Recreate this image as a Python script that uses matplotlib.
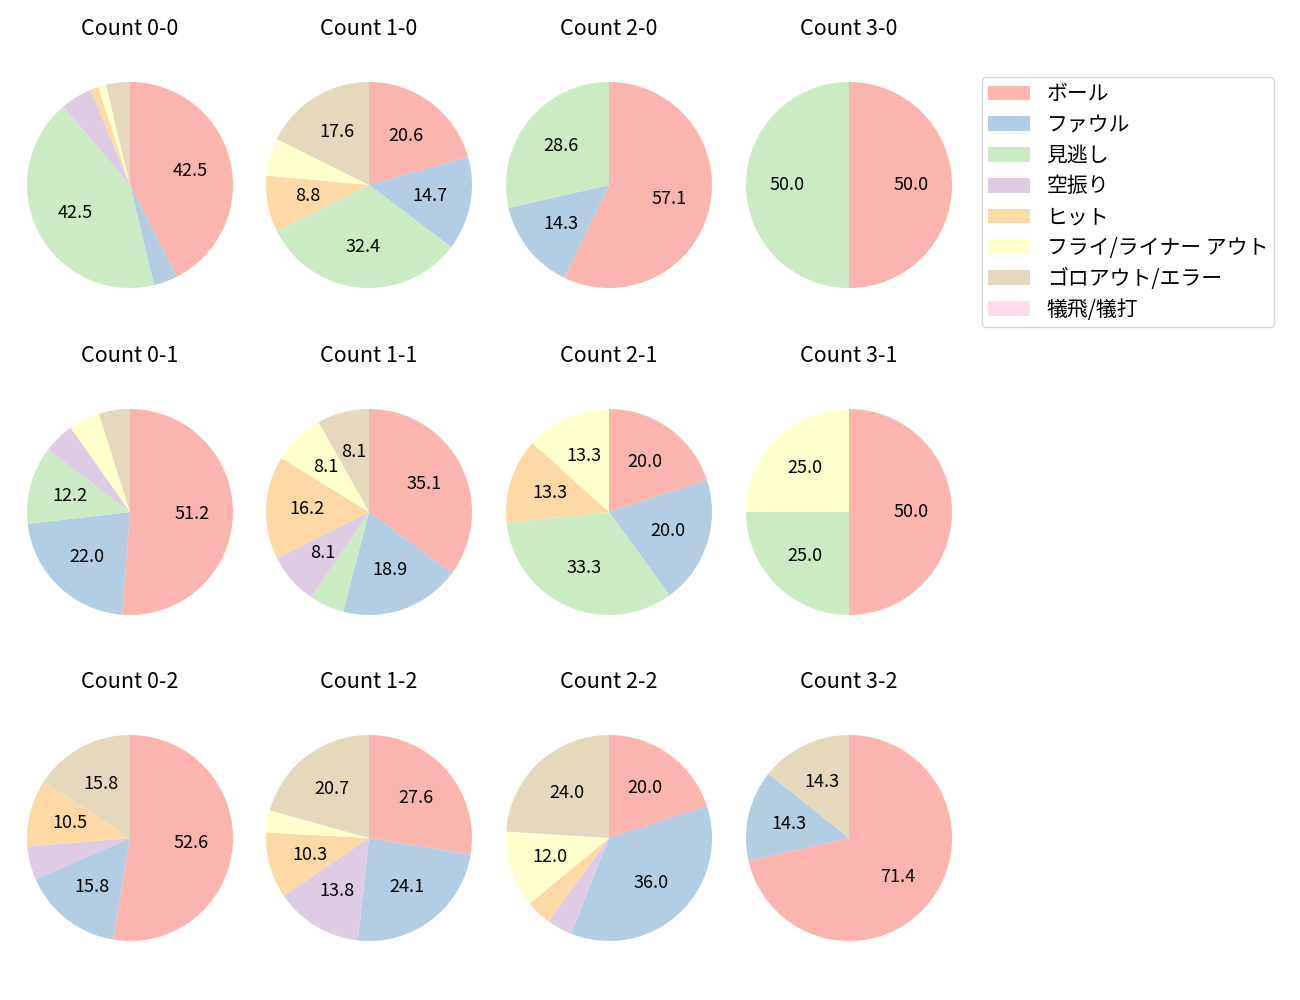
import matplotlib
matplotlib.use("Agg")
import matplotlib.pyplot as plt
from matplotlib.patches import Patch

plt.rcParams['font.family'] = ['Noto Sans CJK JP', 'DejaVu Sans']
plt.rcParams['font.size'] = 13

categories = ['ボール', 'ファウル', '見逃し', '空振り', 'ヒット',
              'フライ/ライナー アウト', 'ゴロアウト/エラー', '犠飛/犠打']
colors = ['#fbb4ae', '#b3cde3', '#ccebc5', '#decbe4', '#fed9a6',
          '#ffffcc', '#e5d8bd', '#fddaec']

balls = [0, 1, 2, 3]
strikes = [0, 1, 2]

count_0_0 = [34, 3, 34, 4, 1, 1, 3, 0]
count_1_0 = [7, 5, 11, 0, 3, 2, 6, 0]
count_2_0 = [4, 1, 2, 0, 0, 0, 0, 0]
count_3_0 = [1, 0, 1, 0, 0, 0, 0, 0]
count_0_1 = [21, 9, 5, 2, 0, 2, 2, 0]
count_1_1 = [13, 7, 2, 3, 6, 3, 3, 0]
count_2_1 = [3, 3, 5, 0, 2, 2, 0, 0]
count_3_1 = [2, 0, 1, 0, 0, 1, 0, 0]
count_0_2 = [10, 3, 0, 1, 2, 0, 3, 0]
count_1_2 = [8, 7, 0, 4, 3, 1, 6, 0]
count_2_2 = [5, 9, 0, 1, 1, 3, 6, 0]
count_3_2 = [5, 1, 0, 0, 0, 0, 1, 0]

data = {
    (0, 0): count_0_0, (1, 0): count_1_0, (2, 0): count_2_0, (3, 0): count_3_0,
    (0, 1): count_0_1, (1, 1): count_1_1, (2, 1): count_2_1, (3, 1): count_3_1,
    (0, 2): count_0_2, (1, 2): count_1_2, (2, 2): count_2_2, (3, 2): count_3_2,
}

W, H = 1300, 1000
fig = plt.figure(figsize=(13, 10), dpi=100)

col_cx = [130, 369, 609, 849]
row_cy = [185, 512, 838]
radius_px = 103
half = radius_px * 1.25


def fmt(p):
    return f'{p:.1f}' if p >= 7 else ''


for s in strikes:
    for b in balls:
        cx, cy = col_cx[b], row_cy[s]
        ax = fig.add_axes([(cx - half) / W, 1 - (cy + half) / H,
                           2 * half / W, 2 * half / H])
        vals = data[(b, s)]
        ax.pie(vals, colors=colors, startangle=90, counterclock=False,
               autopct=fmt, pctdistance=0.6, textprops={'fontsize': 13})
        ax.set_xlim(-1.25, 1.25)
        ax.set_ylim(-1.25, 1.25)
        ax.set_title(f'Count {b}-{s}', fontsize=15.5, pad=15)

handles = [Patch(facecolor=c) for c in colors]
fig.legend(handles, categories, loc='upper left',
           bbox_to_anchor=(982 / W, 1 - 77 / H), borderaxespad=0,
           fontsize=15, handlelength=2.0, labelspacing=0.42, borderpad=0.3)

fig.savefig('out.png', dpi=100)
